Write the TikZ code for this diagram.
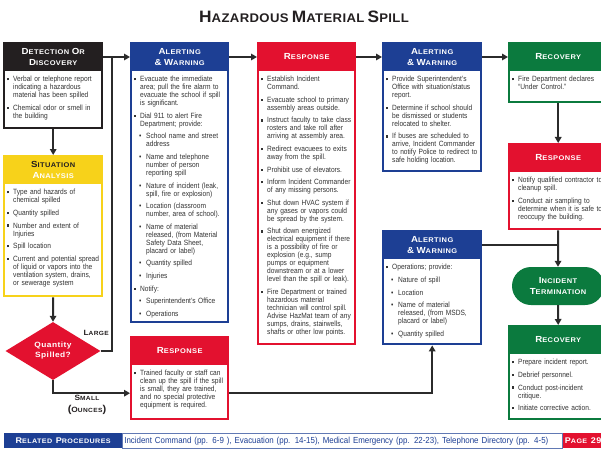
\documentclass[tikz,border=0pt]{standalone}
\usepackage{fontspec}
\usepackage{calc}
\setmainfont{Liberation Sans}[FakeStretch=0.87]
\newfontfamily\hdfont{Liberation Sans}[FakeStretch=1.1,LetterSpace=6]
\newfontfamily\ttlfont{Liberation Sans}[FakeStretch=1.05,LetterSpace=3]
\newfontfamily\barfont{Liberation Sans}[FakeStretch=0.9]
\usetikzlibrary{arrows.meta,shapes.geometric,calc}
\definecolor{hzblue}{HTML}{1D3F94}
\definecolor{hzred}{HTML}{E3112F}
\definecolor{hzgreen}{HTML}{0B7A3E}
\definecolor{hzyellow}{HTML}{F7D21A}
\definecolor{hzblack}{HTML}{231F20}
\definecolor{hzline}{HTML}{2B2B2B}
\definecolor{hztext}{HTML}{333333}
\newcommand\hd[2]{{\fontsize{8.8}{11}\selectfont #1}{\fontsize{6.8}{11}\selectfont #2}}
\newcommand\lb[2]{{\fontsize{7.6}{8.5}\selectfont #1}{\fontsize{6}{8.5}\selectfont #2}}
\newcommand\lbb[2]{{\fontsize{8.2}{9}\selectfont #1}{\fontsize{6.5}{9}\selectfont #2}}
\newcommand\ttl[2]{{\fontsize{16.5}{18}\selectfont #1}{\fontsize{12.5}{18}\selectfont #2}}
\newcommand\sqb{\rule[1.4pt]{2.2pt}{2.2pt}}
\newcommand\itA[1]{\par\hangindent=6pt\hangafter=1\noindent\makebox[6pt][l]{\sqb}#1\par}
\newcommand\itB[1]{\par\hangindent=12pt\hangafter=1\noindent\hspace*{5pt}\makebox[7pt][l]{\textbullet}#1\par}
\newcommand\flowbox[8]{%
  \node[boxouter, fill=#6, minimum width=#4pt, minimum height=#5pt] (#1) at (#2,#3) {};
  \fill[white] ($(#1.north west)+(2,29)$) rectangle ($(#1.south east)+(-2,-2)$);
  \node[headtext] (#1t) at ($(#1.north)+(0,15)$) {#7};
  \node[bodytext, text width=#4pt-8pt] (#1x) at ($(#1.north west)+(4,27)$)
    {\def\\{\hfil\break}\setlength{\parskip}{4.6pt}\rightskip=0pt plus 1fil\relax\hyphenpenalty=10000 #8};
}
\begin{document}
\begin{tikzpicture}[x=1pt,y=-1pt,
  boxouter/.style={rectangle, anchor=north west, inner sep=0pt, draw=none},
  headtext/.style={align=center, text=white, font=\hdfont\bfseries\fontsize{6.8}{11}\selectfont, inner sep=0pt},
  bodytext/.style={anchor=north west, inner sep=0pt, text=hztext, font=\fontsize{7.6}{8}\selectfont},
  conn/.style={draw=hzline, line width=2pt, -{Triangle[length=6pt,width=6.5pt]}},
  connline/.style={draw=hzline, line width=2pt},
  lbl/.style={text=hzblack, font=\hdfont\bfseries, inner sep=0pt, align=center}]
\path[use as bounding box] (0,0) rectangle (601,449);
\clip (0,0) rectangle (601,449);
\fill[white] (0,0) rectangle (601,449);

% title
\node[font=\ttlfont\bfseries, text=hzblack, inner sep=0pt] (title) at (304,17)
  {\ttl{H}{AZARDOUS} \ttl{M}{ATERIAL} \ttl{S}{PILL}};

% boxes
\flowbox{det}{3}{42}{100}{87}{hzblack}{\hd{D}{ETECTION} \hd{O}{R}\\\hd{D}{ISCOVERY}}{%
  \itA{Verbal or telephone report\\indicating a hazardous\\material has been spilled}
  \itA{Chemical odor or smell in\\the building}}

\flowbox{sit}{3}{155}{100}{142}{hzyellow}{\color{hzblack}\hd{S}{ITUATION}\\\hd{A}{NALYSIS}}{%
  \itA{Type and hazards of\\chemical spilled}
  \itA{Quantity spilled}
  \itA{Number and extent of\\Injuries}
  \itA{Spill location}
  \itA{Current and potential spread\\of liquid or vapors into the\\ventilation system, drains,\\or sewerage system}}

\flowbox{alo}{130}{42}{99}{281}{hzblue}{\hd{A}{LERTING}\\\hd{\&}{} \hd{W}{ARNING}}{%
  \itA{Evacuate the immediate\\area; pull the fire alarm to\\evacuate the school if spill\\is significant.}
  \itA{Dial 911 to alert Fire\\Department; provide:}
  \itB{School name and street\\address}
  \itB{Name and telephone\\number of person\\reporting spill}
  \itB{Nature of incident (leak,\\spill, fire or explosion)}
  \itB{Location (classroom\\number, area of school).}
  \itB{Name of material\\released, (from Material\\Safety Data Sheet,\\placard or label)}
  \itB{Quantity spilled}
  \itB{Injuries}
  \itA{Notify:}
  \itB{Superintendent’s Office}
  \itB{Operations}}

\flowbox{reo}{257}{42}{99}{303}{hzred}{\hd{R}{ESPONSE}}{%
  \itA{Establish Incident\\Command.}
  \itA{Evacuate school to primary\\assembly areas outside.}
  \itA{Instruct faculty to take class\\rosters and take roll after\\arriving at assembly area.}
  \itA{Redirect evacuees to exits\\away from the spill.}
  \itA{Prohibit use of elevators.}
  \itA{Inform Incident Commander\\of any missing persons.}
  \itA{Shut down HVAC system if\\any gases or vapors could\\be spread by the system.}
  \itA{Shut down energized\\electrical equipment if there\\is a possibility of fire or\\explosion (e.g., sump\\pumps or equipment\\downstream or at a lower\\level than the spill or leak).}
  \itA{Fire Department or trained\\hazardous material\\technician will control spill.\\Advise HazMat team of any\\sumps, drains, stairwells,\\shafts or other low points.}}

\flowbox{alt}{382}{42}{100}{130}{hzblue}{\hd{A}{LERTING}\\\hd{\&}{} \hd{W}{ARNING}}{%
  \itA{Provide Superintendent’s\\Office with situation/status\\report.}
  \itA{Determine if school should\\be dismissed or students\\relocated to shelter.}
  \itA{If buses are scheduled to\\arrive, Incident Commander\\to notify Police to redirect to\\safe holding location.}}

\flowbox{rco}{508}{42}{100}{61}{hzgreen}{\hd{R}{ECOVERY}}{%
  \itA{Fire Department declares\\“Under Control.”}}

\flowbox{ret}{508}{143}{100}{87}{hzred}{\hd{R}{ESPONSE}}{%
  \itA{Notify qualified contractor to\\cleanup spill.}
  \itA{Conduct air sampling to\\determine when it is safe to\\reoccupy the building.}}

\flowbox{alw}{382}{230}{100}{115}{hzblue}{\hd{A}{LERTING}\\\hd{\&}{} \hd{W}{ARNING}}{%
  \itA{Operations; provide:}
  \itB{Nature of spill}
  \itB{Location}
  \itB{Name of material\\released, (from MSDS,\\placard or label)}
  \itB{Quantity spilled}}

\flowbox{rct}{508}{325}{100}{95}{hzgreen}{\hd{R}{ECOVERY}}{%
  \itA{Prepare incident report.}
  \itA{Debrief personnel.}
  \itA{Conduct post-incident\\critique.}
  \itA{Initiate corrective action.}}

\flowbox{res}{130}{336}{99}{84}{hzred}{\hd{R}{ESPONSE}}{%
  \itA{Trained faculty or staff can\\clean up the spill if the spill\\is small, they are trained,\\and no special protective\\equipment is required.}}

% termination
\node[rectangle, rounded corners=19pt, fill=hzgreen, minimum width=92pt, minimum height=38pt,
  inner sep=0pt, text=white, align=center, font=\hdfont\bfseries\fontsize{6.8}{11}\selectfont]
  (term) at (558,286) {\hd{I}{NCIDENT}\\\hd{T}{ERMINATION}};

% decision
\node[diamond, fill=hzred, minimum width=95pt, minimum height=58pt, inner sep=0pt, aspect=1.64,
  text=white, align=center, font=\hdfont\bfseries\fontsize{7.6}{10}\selectfont]
  (dia) at (53,351) {Quantity\\Spilled?};

% connectors
\coordinate (lj) at (112,57);
\draw[conn] ([yshift=-15pt]det.north east) -- ([yshift=-15pt]alo.north west);
\draw[connline] (dia.east) -| (lj);
\draw[conn] (det.south) -- (sit.north);
\draw[conn] (sit.south) -- (dia.north);
\draw[conn] (dia.south) |- ([yshift=-15pt]res.west);
\draw[conn] ([yshift=-15pt]alo.north east) -- ([yshift=-15pt]reo.north west);
\draw[conn] ([yshift=-15pt]reo.north east) -- ([yshift=-15pt]alt.north west);
\draw[conn] ([yshift=-15pt]alt.north east) -- ([yshift=-15pt]rco.north west);
\draw[conn] (rco.south) -- (ret.north);
\draw[conn] ([yshift=-15pt]res.east) -| (alw.south);
\coordinate (a2r) at ([yshift=-15pt]alw.north east);
\draw[connline] (a2r) -- (a2r -| ret.south);
\draw[conn] (ret.south) -- (term.north);
\draw[conn] (term.south) -- (rct.north);

% labels
\node[lbl, anchor=east] (lg) at (109,333) {\lb{L}{ARGE}};
\node[lbl] (sm) at (87,405) {\lb{S}{MALL}\\(\lb{O}{UNCES})};

% bottom bar
\node[rectangle, anchor=north west, fill=hzblue, minimum width=118pt, minimum height=15pt,
  inner sep=0pt, text=white, font=\hdfont\bfseries] (rp) at (4,433) {\lbb{R}{ELATED} \lbb{P}{ROCEDURES}};
\node[rectangle, anchor=north west, fill=white, draw=hzblue!70, line width=0.6pt,
  minimum height=15pt, text width=436pt, inner sep=0pt, inner xsep=2pt, align=left, text=hzblue,
  font=\barfont\fontsize{8.8}{9}\selectfont] (rl) at (122,433)
  {Incident Command (pp. 6-9 ), Evacuation (pp. 14-15), Medical Emergency (pp. 22-23), Telephone Directory (pp. 4-5)};
\node[rectangle, anchor=north west, fill=hzred, minimum width=40pt, minimum height=15pt,
  inner sep=0pt, text=white, font=\hdfont\bfseries] (pg) at (563,433) {\lbb{P}{AGE} {\fontsize{8.2}{9}\selectfont 29}};
\end{tikzpicture}
\end{document}
